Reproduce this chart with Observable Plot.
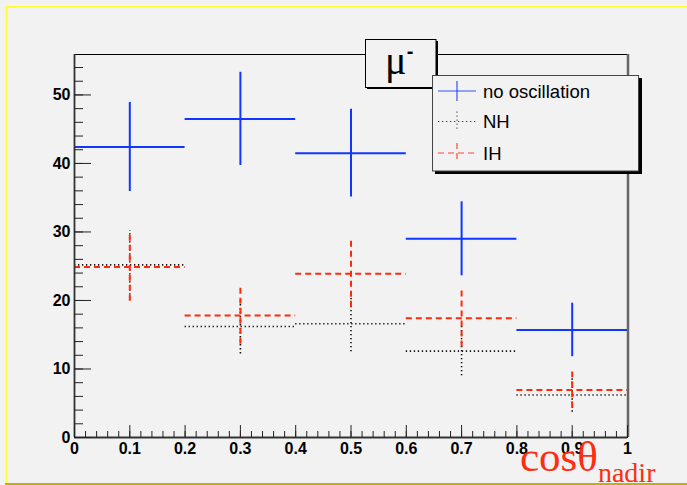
<!DOCTYPE html>
<html><head><meta charset="utf-8">
<script src="https://cdn.jsdelivr.net/npm/d3@7"></script>
<script src="https://cdn.jsdelivr.net/npm/@observablehq/plot@0.6"></script>
<style>html,body{margin:0;padding:0;background:#f2f2f2;overflow:hidden}</style>
</head><body><div id="chart"></div>
<script>
// ---- data ----
const binLo = [0.0, 0.2, 0.4, 0.6, 0.8];
const binHi = [0.2, 0.4, 0.6, 0.8, 1.0];
const binCenter = [0.1, 0.3, 0.5, 0.7, 0.9];
const noOsc = [42.4, 46.5, 41.5, 29.0, 15.7];
const noOscErr = [6.5, 6.8, 6.4, 5.4, 3.9];
const nh = [25.2, 16.2, 16.6, 12.6, 6.2];
const nhErr = [5.0, 4.0, 4.1, 3.6, 2.5];
const ih = [24.9, 17.8, 23.9, 17.4, 6.95];
const ihErr = [5.0, 4.2, 4.9, 4.2, 2.6];
const seriesNames = ["no oscillation", "NH", "IH"];
const xTickLabels = ["0", "0.1", "0.2", "0.3", "0.4", "0.5", "0.6", "0.7", "0.8", "0.9", "1"];
const xMajorTicks = [0, 0.1, 0.2, 0.3, 0.4, 0.5, 0.6, 0.7, 0.8, 0.9, 1.0];
const yMajorTicks = [0, 10, 20, 30, 40, 50];
const yMax = 55.9;
const titleText = "μ";
const titleSup = "-";
const xLabelMain = "cosθ";
const xLabelSub = "nadir";

// ---- styles ----
const styles = {
  "no oscillation": {stroke: "#1036ff", dash: null, width: 2},
  "NH": {stroke: "#111", dash: "1.3,2.7", width: 1.6},
  "IH": {stroke: "#ff2a0a", dash: "6,4", width: 2}
};

const rows = (vals, errs, name) => binCenter.map((c, i) => ({
  name, lo: binLo[i], hi: binHi[i], c, v: vals[i], e: errs[i]
}));
const sets = [rows(noOsc, noOscErr, seriesNames[0]), rows(nh, nhErr, seriesNames[1]), rows(ih, ihErr, seriesNames[2])];

const xMinorTicks = d3.ticks(0, 1, 50);
const yMinorTicks = d3.range(0, 56, 2);

const seriesMarks = sets.flatMap(data => {
  const s = styles[data[0].name];
  return [
    Plot.ruleY(data, {y: "v", x1: "lo", x2: "hi", stroke: s.stroke, strokeWidth: s.width, strokeDasharray: s.dash}),
    Plot.ruleX(data, {x: "c", y1: d => d.v - d.e, y2: d => d.v + d.e, stroke: s.stroke, strokeWidth: s.width, strokeDasharray: s.dash})
  ];
});

const plot = Plot.plot({
  width: 687, height: 485,
  marginLeft: 74, marginRight: 60, marginTop: 54, marginBottom: 48,
  x: {domain: [0, 1]},
  y: {domain: [0, yMax]},
  style: {background: "#f2f2f2", fontFamily: "'Liberation Sans', Arial, sans-serif", fontSize: "16px", fontWeight: "bold", color: "#000", overflow: "visible"},
  marks: [
    ...seriesMarks,
    Plot.frame({stroke: "#000", strokeWidth: 1}),
    Plot.ruleX([1], {stroke: "#666", strokeWidth: 2.5, dx: 0.5}),
    Plot.ruleX([0], {stroke: "#333", strokeWidth: 1.8}),
    Plot.ruleY([0], {stroke: "#333", strokeWidth: 1.8}),
    Plot.axisY(yMinorTicks, {tickSize: -9, fill: "none", label: null, stroke: "#222"}),
    Plot.axisY(yMajorTicks, {tickSize: -17, fill: "none", label: null, stroke: "#222"}),
    Plot.axisY(yMajorTicks, {tickSize: 0, tickPadding: 4, tickFormat: d => String(d), label: null}),
    Plot.axisX(xMinorTicks, {tickSize: -6, fill: "none", label: null, stroke: "#222"}),
    Plot.axisX(xMajorTicks, {tickSize: -12, fill: "none", label: null, stroke: "#222"}),
    Plot.axisX(xMajorTicks, {tickSize: 0, tickPadding: 5, tickFormat: (d, i) => xTickLabels[i], label: null})
  ]
});
document.getElementById("chart").appendChild(plot);

// ---- decorations ----
const svg = d3.select(plot);
const g = svg.append("g").attr("text-anchor", "start");
// canvas border
g.append("line").attr("x1", 5).attr("x2", 687).attr("y1", 6.7).attr("y2", 6.7).attr("stroke", "#ffff30").attr("stroke-width", 1.6);
g.append("line").attr("x1", 6.5).attr("x2", 6.5).attr("y1", 6).attr("y2", 485).attr("stroke", "#ffff30").attr("stroke-width", 1.6);
g.append("line").attr("x1", 5).attr("x2", 687).attr("y1", 484).attr("y2", 484).attr("stroke", "#c4b000").attr("stroke-width", 2);

// title box
g.append("rect").attr("x", 367).attr("y", 41).attr("width", 71).attr("height", 48).attr("fill", "#000");
g.append("rect").attr("x", 365.5).attr("y", 39.5).attr("width", 70.5).attr("height", 48).attr("fill", "#f2f2f2").attr("stroke", "#000").attr("stroke-width", 1);
g.append("text").attr("x", 385).attr("y", 74).attr("text-anchor", "start")
  .attr("font-family", "'Liberation Serif', 'Times New Roman', serif").attr("font-size", 40).attr("font-weight", "normal").attr("fill", "#000")
  .text(titleText);
g.append("text").attr("x", 410).attr("y", 58).attr("text-anchor", "middle").attr("font-family", "'Liberation Sans', Arial, sans-serif")
  .attr("font-size", 20).attr("font-weight", "bold").attr("fill", "#000").text(titleSup);

// legend
g.append("rect").attr("x", 435).attr("y", 78).attr("width", 207).attr("height", 96).attr("fill", "#000");
g.append("rect").attr("x", 432.5).attr("y", 75.5).attr("width", 206).attr("height", 95.5).attr("fill", "#f2f2f2").attr("stroke", "#444").attr("stroke-width", 1);
const rowY = [91, 121.5, 153];
seriesNames.forEach((name, i) => {
  const s = styles[name];
  const y = rowY[i];
  g.append("line").attr("x1", 438).attr("x2", 476).attr("y1", y).attr("y2", y)
    .attr("stroke", s.stroke).attr("stroke-width", s.width * 0.6).attr("stroke-dasharray", s.dash).attr("opacity", 0.85);
  g.append("line").attr("x1", 457).attr("x2", 457).attr("y1", y - 10).attr("y2", y + 10)
    .attr("stroke", s.stroke).attr("stroke-width", s.width * 0.6).attr("stroke-dasharray", s.dash).attr("opacity", 0.85);
  g.append("text").attr("x", 483).attr("y", y + 6.5).attr("text-anchor", "start").attr("font-family", "'Liberation Sans', Arial, sans-serif")
    .attr("font-size", 18.5).attr("font-weight", "normal").attr("fill", "#000").text(name);
});

// x label
const xl = g.append("text").attr("x", 520).attr("y", 471).attr("text-anchor", "start")
  .attr("font-family", "'Liberation Serif', 'Times New Roman', serif")
  .attr("font-weight", "normal").attr("fill", "#ff2d10");
xl.append("tspan").attr("font-size", 43).text(xLabelMain);
xl.append("tspan").attr("font-size", 28).attr("dy", 11).text(xLabelSub);
</script>
</body></html>
